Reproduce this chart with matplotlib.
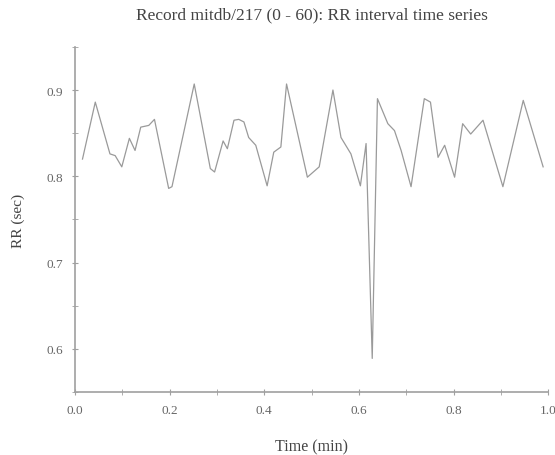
import matplotlib.pyplot as plt

plt.rcParams['font.family'] = ['Liberation Serif', 'DejaVu Serif']

# time (min) and RR interval (sec)
t = [0.016, 0.043, 0.074, 0.085, 0.099, 0.115, 0.127, 0.139, 0.156, 0.168,
     0.198, 0.205, 0.252, 0.286, 0.295, 0.313, 0.322, 0.336, 0.346, 0.357,
     0.367, 0.382, 0.406, 0.420, 0.435, 0.447, 0.491, 0.516, 0.545, 0.562,
     0.583, 0.603, 0.615, 0.628, 0.639, 0.661, 0.675, 0.689, 0.710, 0.738,
     0.751, 0.767, 0.781, 0.802, 0.819, 0.836, 0.862, 0.904, 0.947, 0.989]
rr = [0.820, 0.886, 0.826, 0.824, 0.811, 0.844, 0.830, 0.857, 0.859, 0.866,
      0.786, 0.788, 0.907, 0.809, 0.805, 0.841, 0.832, 0.865, 0.866, 0.863,
      0.845, 0.836, 0.789, 0.828, 0.834, 0.907, 0.799, 0.811, 0.900, 0.845,
      0.826, 0.789, 0.838, 0.589, 0.890, 0.861, 0.853, 0.830, 0.788, 0.890,
      0.886, 0.822, 0.836, 0.799, 0.861, 0.849, 0.865, 0.788, 0.888, 0.811]

xmajor = [0.0, 0.2, 0.4, 0.6, 0.8, 1.0]
xminor = [0.1, 0.3, 0.5, 0.7, 0.9]
ymajor = [0.6, 0.7, 0.8, 0.9]
yminor = [0.55, 0.65, 0.75, 0.85, 0.95]

fig = plt.figure(figsize=(5.55, 4.56), dpi=100)
ax = fig.add_axes([0.135, 0.138, 0.853, 0.757])

ax.plot(t, rr, color='#9a9a9a', linewidth=0.9)

ax.set_xlim(0, 1)
ax.set_ylim(0.55, 0.95)
ax.set_xticks(xmajor)
ax.set_xticks(xminor, minor=True)
ax.set_yticks(ymajor)
ax.set_yticks(yminor, minor=True)
ax.set_xticklabels(['%.1f' % v for v in xmajor])
ax.set_yticklabels(['%.1f' % v for v in ymajor])

for s in ['top', 'right']:
    ax.spines[s].set_visible(False)
for s in ['left', 'bottom']:
    ax.spines[s].set_color('#a0a0a0')
    ax.spines[s].set_linewidth(1.2)

ax.tick_params(which='both', direction='inout', length=5, color='#a0a0a0',
               labelsize=9.5, labelcolor='#666666', pad=6)

ax.text(0.5, 1.093, 'Record mitdb/217 (0 - 60): RR interval time series',
        transform=ax.transAxes, ha='center', va='center',
        fontsize=12.5, color='#444444')
ax.set_xlabel('Time (min)', fontsize=11.5, color='#444444')
ax.xaxis.set_label_coords(0.5, -0.157)
ax.xaxis.label.set_va('center')
ax.set_ylabel('RR (sec)', fontsize=11, color='#444444')
ax.yaxis.set_label_coords(-0.12, 0.5)
ax.yaxis.label.set_va('center')

fig.savefig('out.png', dpi=100)
